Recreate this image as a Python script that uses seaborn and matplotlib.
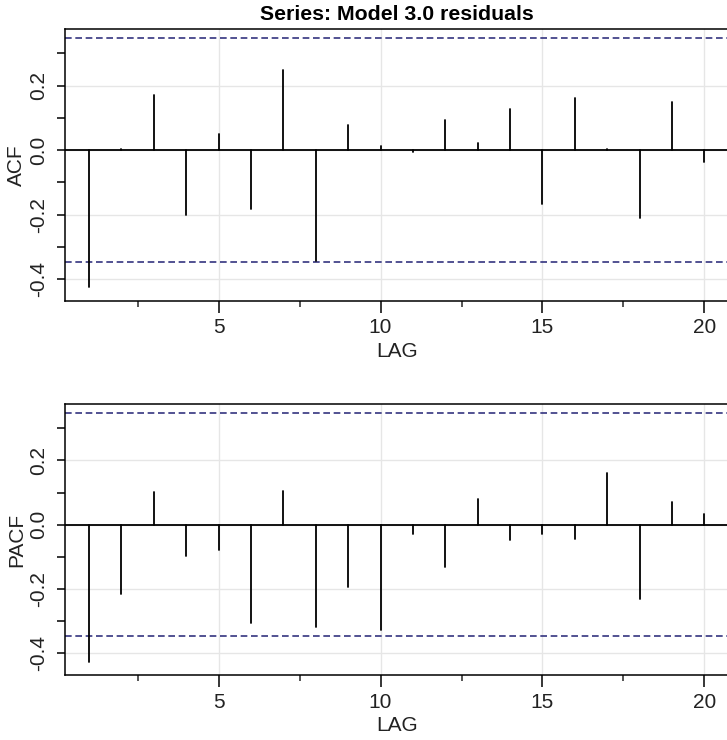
import numpy as np
import pandas as pd
import seaborn as sns
import matplotlib.pyplot as plt
from matplotlib.ticker import MultipleLocator

#///// Data
lags = list(range(1, 21))
acf_vals = [-0.425, 0.005, 0.171, -0.201, 0.049, -0.183, 0.247, -0.344, 0.078, 0.013,
            -0.007, 0.093, 0.022, 0.128, -0.168, 0.161, 0.005, -0.209, 0.148, -0.037]
pacf_vals = [-0.427, -0.216, 0.101, -0.096, -0.079, -0.306, 0.106, -0.319, -0.193, -0.326,
             -0.029, -0.130, 0.081, -0.049, -0.029, -0.045, 0.160, -0.230, 0.071, 0.034]
conf_bound = 0.346
title = 'Series: Model 3.0 residuals'

#///// Style
sns.set_theme(style='white')
plt.rcParams['font.family'] = ['Liberation Sans', 'DejaVu Sans']

W, H = 727, 740
fig = plt.figure(figsize=(W / 100, H / 100), dpi=100)


def stem_frame(values):
    # two rows per lag: from zero up/down to the value
    return pd.DataFrame({
        'LAG': np.repeat(lags, 2),
        'val': np.ravel([[0.0, v] for v in values]),
    })


def panel(rect, values, ylabel):
    ax = fig.add_axes(rect)
    # grid
    for gx in [5, 10, 15, 20]:
        ax.axvline(gx, color='#e6e6e6', lw=1.0, zorder=0)
    for gy in [-0.4, -0.2, 0.0, 0.2]:
        ax.axhline(gy, color='#e6e6e6', lw=1.0, zorder=0)
    # stems
    sns.lineplot(data=stem_frame(values), x='LAG', y='val', units='LAG',
                 estimator=None, color='black', lw=1.3, ax=ax, zorder=3)
    ax.axhline(0, color='black', lw=1.3, zorder=2)
    # confidence bounds
    for b in (-conf_bound, conf_bound):
        ax.axhline(b, color='#33337f', lw=1.2, dashes=(4, 2.2), zorder=2)
    ax.set_xlim(0.24, 20.76)
    ax.set_ylim(-0.467, 0.375)
    # ticks
    ax.xaxis.set_major_locator(MultipleLocator(5))
    ax.xaxis.set_minor_locator(MultipleLocator(2.5))
    ax.yaxis.set_minor_locator(MultipleLocator(0.1))
    ax.set_yticks([-0.4, -0.2, 0.0, 0.2])
    ax.set_yticklabels(['-0.4', '-0.2', '0.0', '0.2'], rotation=90, va='center')
    ax.tick_params(axis='x', which='major', direction='out', length=8.6, width=1.1,
                   labelsize=15, pad=4, colors='black', bottom=True)
    ax.tick_params(axis='x', which='minor', direction='out', length=4, width=1.1,
                   bottom=True)
    ax.tick_params(axis='y', which='both', direction='out', length=6.1, width=1.1,
                   labelsize=15, pad=6, colors='black', left=True)
    for t in ax.get_xticklabels() + ax.get_yticklabels():
        t.set_color('#222222')
    ax.set_xlabel('LAG', fontsize=15, color='#222222')
    ax.set_ylabel(ylabel, fontsize=15, color='#222222')
    ax.xaxis.set_label_coords(0.5, -0.152)
    ax.yaxis.set_label_coords(-0.058, 0.5)
    for s in ax.spines.values():
        s.set_color('black')
        s.set_linewidth(1.1)
    return ax


left = 64.5 / W
width = (729 - 64.5) / W
ax1 = panel([left, 1 - 301 / H, width, 272 / H], acf_vals, 'ACF')
ax2 = panel([left, 1 - 675 / H, width, 271 / H], pacf_vals, 'PACF')

fig.text((64.5 + 729) / 2 / W, 1 - 20 / H, title, ha='center', va='baseline',
         fontsize=15.3, fontweight='bold', color='black')

fig.savefig('out.png', dpi=100)
